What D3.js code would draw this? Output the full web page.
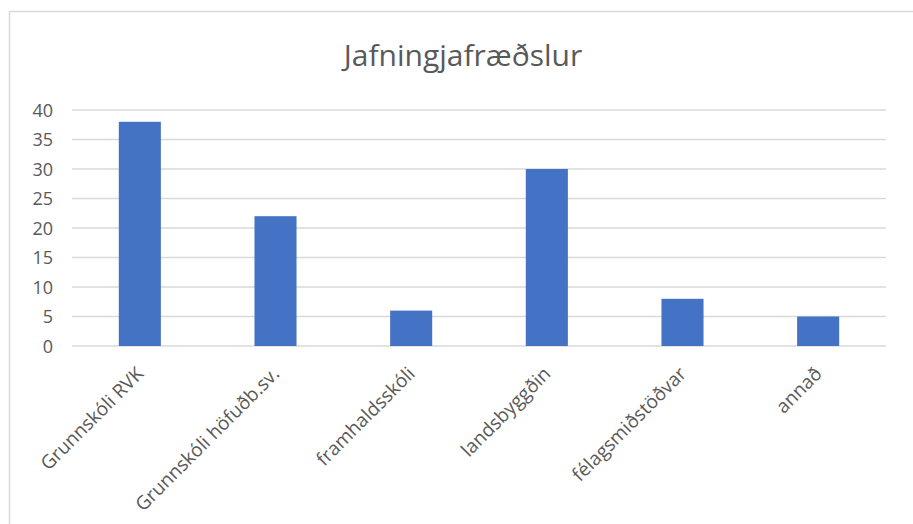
<!DOCTYPE html>
<html>
<head>
<meta charset="utf-8">
<script src="https://cdn.jsdelivr.net/npm/d3@7"></script>
<style>
  body { margin: 0; background: #fff; }
  text { font-family: "Open Sans", "Liberation Sans", sans-serif; }
</style>
</head>
<body>
<div id="chart"></div>
<script>
const width = 913;
const height = 524;

// gögn
const flokkar = ["Grunnskóli RVK", "Grunnskóli höfuðb.sv.", "framhaldsskóli", "landsbyggðin", "félagsmiðstöðvar", "annað"];
const gildi = [38, 22, 6, 30, 8, 5];
const yTicks = [0, 5, 10, 15, 20, 25, 30, 35, 40];
const titill = "Jafningjafræðslur";

const margin = {top: 110, right: 27, bottom: 178, left: 72};

const svg = d3.select("#chart")
  .append("svg")
  .attr("width", width)
  .attr("height", height);

// rammi
svg.append("rect")
  .attr("x", 9.5)
  .attr("y", 11.5)
  .attr("width", width + 10)
  .attr("height", height + 10)
  .attr("fill", "none")
  .attr("stroke", "#d9d9d9")
  .attr("stroke-width", 1.5);

const x = d3.scaleBand()
  .domain(flokkar)
  .range([margin.left, width - margin.right])
  .paddingInner(0.69)
  .paddingOuter(0.345);

const y = d3.scaleLinear()
  .domain([0, 40])
  .range([height - margin.bottom, margin.top]);

// gridlínur
svg.append("g")
  .selectAll("line")
  .data(yTicks)
  .enter()
  .append("line")
  .attr("x1", margin.left)
  .attr("x2", width - margin.right)
  .attr("y1", d => y(d))
  .attr("y2", d => y(d))
  .attr("stroke", "#d9d9d9")
  .attr("stroke-width", 1.5);

// y ás
const yAxis = svg.append("g")
  .attr("transform", `translate(${margin.left - 19},0)`)
  .call(d3.axisLeft(y).tickValues(yTicks).tickSize(0).tickPadding(0));
yAxis.select(".domain").remove();
yAxis.selectAll("text")
  .attr("fill", "#595959")
  .style("font-size", "18px")
  .attr("dy", "0.36em");

// súlur
svg.selectAll(".bar")
  .data(gildi)
  .enter()
  .append("rect")
  .attr("class", "bar")
  .attr("x", (d, i) => x(flokkar[i]))
  .attr("y", d => y(d))
  .attr("width", x.bandwidth())
  .attr("height", d => y(0) - y(d))
  .attr("fill", "#4472c4");

// x ás
const xAxis = svg.append("g")
  .attr("transform", `translate(0,${height - margin.bottom})`)
  .call(d3.axisBottom(x).tickSize(0).tickPadding(0));
xAxis.select(".domain").remove();
xAxis.selectAll("text")
  .attr("fill", "#595959")
  .style("font-size", "19px")
  .attr("text-anchor", "end")
  .attr("dy", null)
  .attr("transform", "translate(5,29) rotate(-45)");

// titill
svg.append("text")
  .attr("x", 463)
  .attr("y", 66)
  .attr("text-anchor", "middle")
  .attr("fill", "#595959")
  .style("font-size", "30px")
  .text(titill);
</script>
</body>
</html>
